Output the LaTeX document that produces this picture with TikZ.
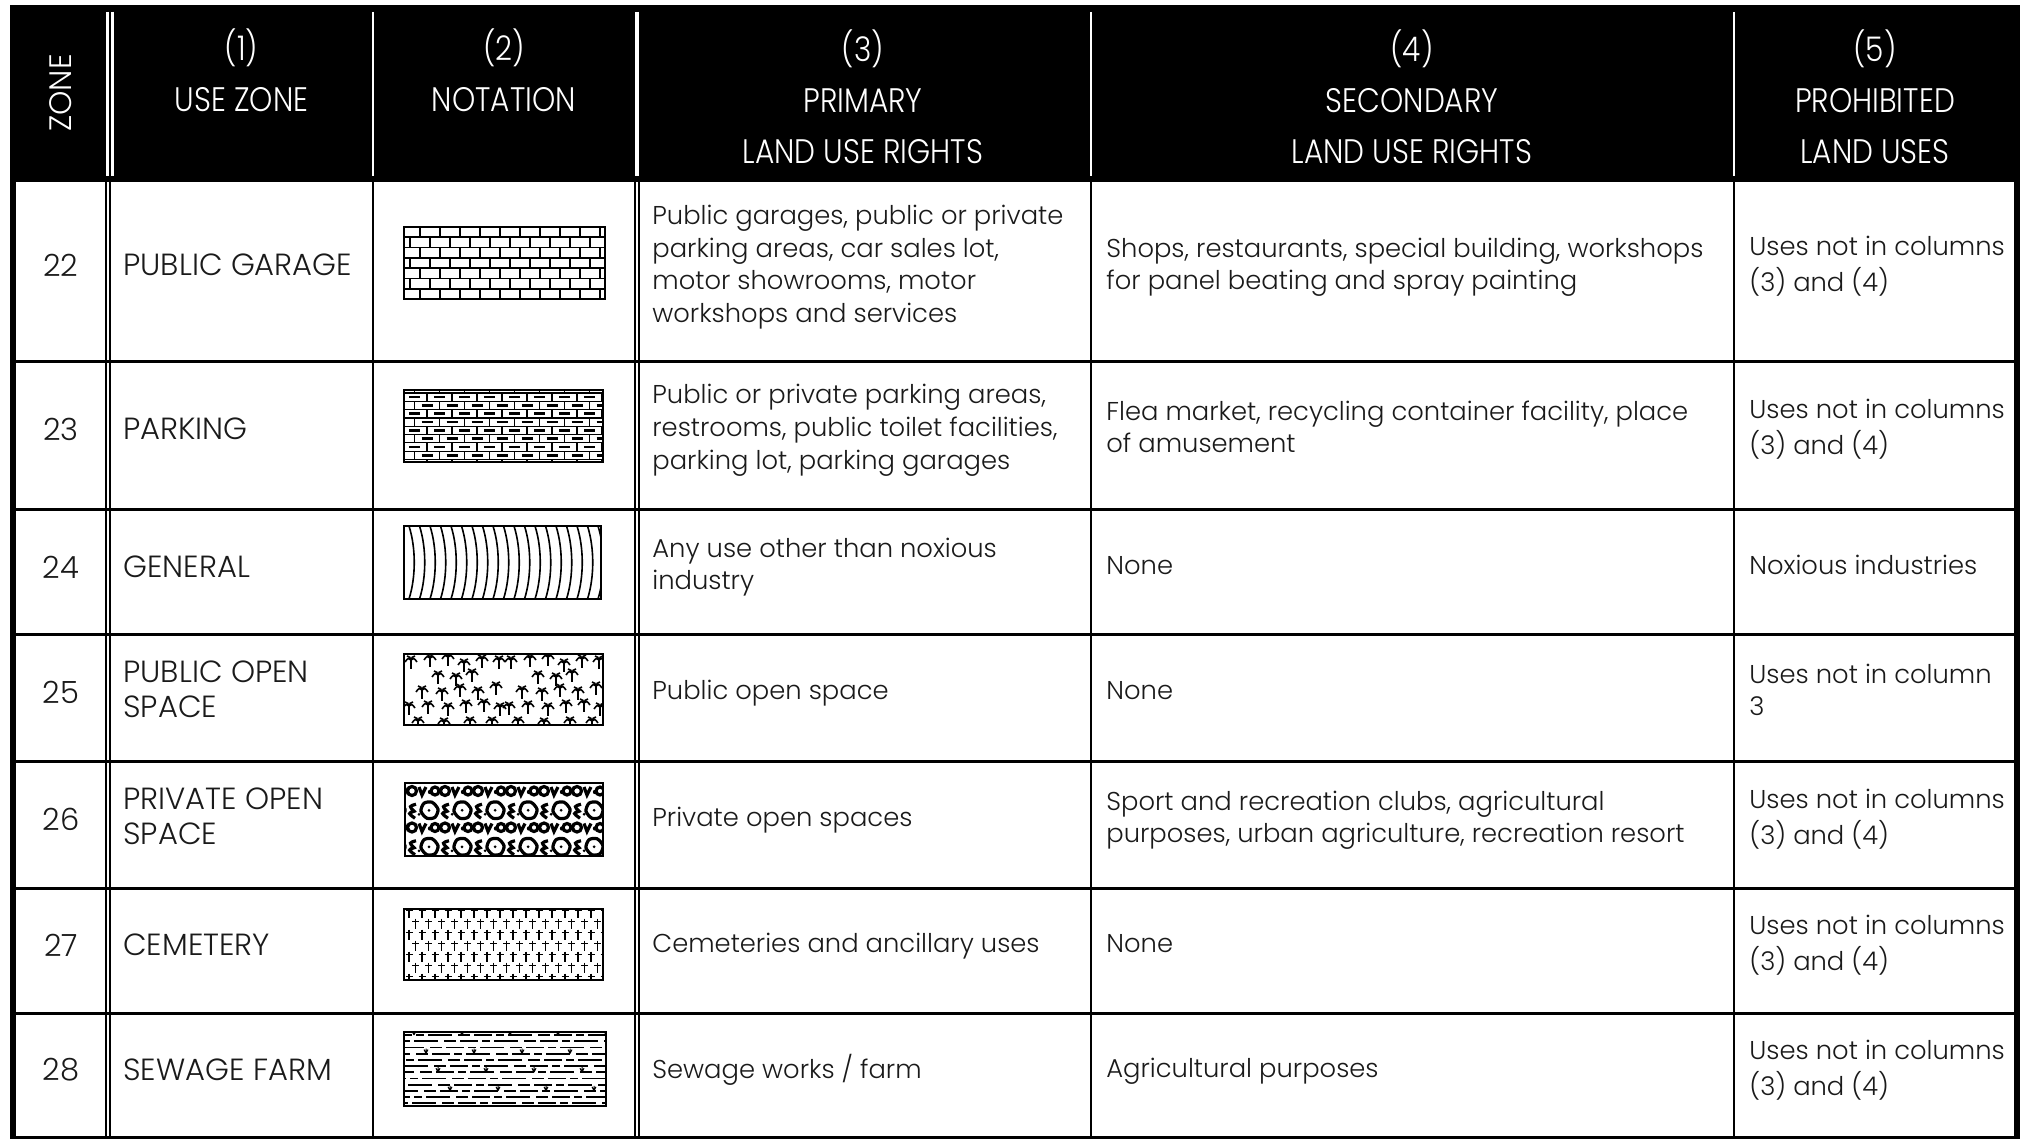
\documentclass[tikz,border=0pt]{standalone}
\usepackage{fontspec}
\IfFontExistsTF{Poppins Light}{%
  \setmainfont{Poppins Light}%
  \newfontfamily\hdrfont[FakeStretch=0.87]{Poppins Light}}{%
  \setmainfont{Poppins}%
  \newfontfamily\hdrfont[FakeStretch=0.87]{Poppins}}
\newcommand\bodysize{\fontsize{12.9}{16.4}\selectfont}
\newcommand\capsize{\fontsize{15.3}{17.5}\selectfont}
\newcommand\hdrsize{\hdrfont\fontsize{17}{25.5}\selectfont}
\definecolor{ink}{HTML}{1A1A1A}
\begin{document}
\begin{tikzpicture}[x=0.5pt,y=-0.5pt,
  rowline/.style={line width=1.5pt},
  colline/.style={line width=1.2pt},
  hdrline/.style={white,line width=1.2pt},
  hdrtext/.style={font=\hdrsize,text=white,align=center,inner sep=0pt},
  celltext/.style={font=\bodysize,text=ink,anchor=west,align=left,inner sep=0pt},
  capstext/.style={font=\capsize,text=ink,anchor=west,align=left,inner sep=0pt},
  numtext/.style={font=\capsize,text=ink,inner sep=0pt},
  patbox/.style={line width=1pt},
  patline/.style={line width=0.8pt},
  palm/.pic={\draw[line width=0.8pt] (0,0)--(0,9);
    \draw[line width=0.8pt] (0,0) .. controls (-3,-2) .. (-6,2) (0,0) .. controls (3,-2) .. (6,2)
      (0,0) .. controls (-1,-3) .. (-4,-4) (0,0) .. controls (1,-3) .. (4,-4);}
]
\useasboundingbox (0,0) rectangle (2030,1139);
% header band
\fill[black] (10,5) rectangle (2020,182);
\draw[hdrline] (107.5,12)--(107.5,176) (112.3,12)--(112.3,176);
\draw[hdrline] (373,12)--(373,176);
\draw[white,line width=2pt] (637,12)--(637,176);
\draw[hdrline] (1091,12)--(1091,176);
\draw[hdrline] (1734,12)--(1734,176);
\node[hdrtext,font=\fontsize{15.5}{18}\selectfont,rotate=90] (hzone) at (61,93) {ZONE};
\node[hdrtext] (h1) at (241.5,76) {\strut(1)\\USE ZONE\strut};
\node[hdrtext] (h2) at (504,76) {\strut(2)\\NOTATION\strut};
\node[hdrtext] (h3) at (863,102) {\strut(3)\\PRIMARY\\LAND USE RIGHTS\strut};
\node[hdrtext] (h4) at (1412,102) {\strut(4)\\SECONDARY\\LAND USE RIGHTS\strut};
\node[hdrtext] (h5) at (1875,102) {\strut(5)\\PROHIBITED\\LAND USES\strut};
% body borders
\fill[black] (10,182) rectangle (16,1139);
\fill[black] (2014,182) rectangle (2020,1139);
\draw[line width=1pt] (106,182)--(106,1139) (110,182)--(110,1139);
\draw[colline] (373,182)--(373,1139);
\draw[line width=1pt] (635,182)--(635,1139) (639,182)--(639,1139);
\draw[colline] (1091,182)--(1091,1139);
\draw[colline] (1734,182)--(1734,1139);
\foreach \yy in {362,509,634,761,888,1013,1137.5}
  \draw[rowline] (16,\yy)--(2014,\yy);
% zone numbers
\foreach \n/\yy in {22/265,23/429,24/567,25/692,26/819,27/945,28/1070}
  \node[numtext] (z\n) at (61,\yy) {\n};
% column 1
\node[capstext] (u22) at (123,265) {PUBLIC GARAGE};
\node[capstext] (u23) at (123,429) {PARKING};
\node[capstext] (u24) at (123,567) {GENERAL};
\node[capstext] (u25) at (123,693) {\strut PUBLIC OPEN\\SPACE\strut};
\node[capstext] (u26) at (123,820) {\strut PRIVATE OPEN\\SPACE\strut};
\node[capstext] (u27) at (123,945) {CEMETERY};
\node[capstext] (u28) at (123,1070) {SEWAGE FARM};
% column 3
\node[celltext] (p22) at (652,267) {\strut Public garages, public or private\\parking areas, car sales lot,\\motor showrooms, motor\\workshops and services\strut};
\node[celltext] (p23) at (652,430) {\strut Public or private parking areas,\\restrooms, public toilet facilities,\\parking lot, parking garages\strut};
\node[celltext] (p24) at (652,567) {\strut Any use other than noxious\\industry\strut};
\node[celltext] (p25) at (652,693) {\strut Public open space\strut};
\node[celltext] (p26) at (652,820) {\strut Private open spaces\strut};
\node[celltext] (p27) at (652,946) {\strut Cemeteries and ancillary uses\strut};
\node[celltext] (p28) at (652,1071) {\strut Sewage works / farm\strut};
% column 4
\node[celltext] (s22) at (1106,267) {\strut Shops, restaurants, special building, workshops\\for panel beating and spray painting\strut};
\node[celltext] (s23) at (1106,430) {\strut Flea market, recycling container facility, place\\of amusement\strut};
\node[celltext] (s24) at (1106,568) {\strut None\strut};
\node[celltext] (s25) at (1106,693) {\strut None\strut};
\node[celltext] (s26) at (1106,820) {\strut Sport and recreation clubs, agricultural\\purposes, urban agriculture, recreation resort\strut};
\node[celltext] (s27) at (1106,946) {\strut None\strut};
\node[celltext] (s28) at (1106,1071) {\strut Agricultural purposes\strut};
% column 5
\node[celltext] (x22) at (1749,267) {\strut Uses not in columns\\(3) and (4)\strut};
\node[celltext] (x23) at (1749,430) {\strut Uses not in columns\\(3) and (4)\strut};
\node[celltext] (x24) at (1749,568) {\strut Noxious industries\strut};
\node[celltext] (x25) at (1749,693) {\strut Uses not in column\\3\strut};
\node[celltext] (x26) at (1749,820) {\strut Uses not in columns\\(3) and (4)\strut};
\node[celltext] (x27) at (1749,946) {\strut Uses not in columns\\(3) and (4)\strut};
\node[celltext] (x28) at (1749,1071) {\strut Uses not in columns\\(3) and (4)\strut};
% ---------- notation patterns ----------
% 22 brick
\begin{scope}
\clip (404,227) rectangle (605,299);
\foreach \k in {1,...,6} \draw[line width=0.9pt] (404,227+\k*10.29)--(605,227+\k*10.29);
\foreach \k [evaluate=\k as \off using {mod(\k,2)*10}] in {0,...,6}
  \foreach \j in {0,...,10}
    \draw[line width=1.3pt] (400+\off+\j*20,227+\k*10.29)--++(0,10.29);
\end{scope}
\draw[patbox] (404,227) rectangle (605,299);
% 23 brick with dashes
\begin{scope}
\clip (404,390) rectangle (603,462);
\foreach \k in {0,...,8} \draw[line width=0.6pt] (404,393+\k*8.3)--(603,393+\k*8.3);
\foreach \k [evaluate=\k as \off using {mod(\k+2,2)*12.5}] in {-1,...,8}
  \foreach \j in {0,...,8} {
    \draw[line width=0.9pt] (402+\off+\j*25,393+\k*8.3)--++(0,8.3);
    \draw[line width=1.3pt] (402+\off+\j*25+7,393+\k*8.3+4.15)--++(11,0);
  }
\end{scope}
\draw[patbox] (404,390) rectangle (603,462);
% 24 curved lines
\begin{scope}
\clip (404,526) rectangle (601,599);
\foreach \i in {0,...,18}
  \draw[patline] (409+\i*10.5,526) .. controls (416+\i*10.5,548) and (416+\i*10.5,577) .. (409+\i*10.5,599);
\end{scope}
\draw[patbox] (404,526) rectangle (601,599);
% 25 palms
\begin{scope}
\clip (404,654) rectangle (603,725);
\foreach \t in {0,1}
  \foreach \dx/\dy in {7/6,26/4,44/3,60/9,78/5,95/6,34/21,52/23,68/19,18/36,38/38,56/34,74/37,92/32,5/52,24/51,44/53,62/50,80/49,96/53,14/67,40/68,66/67,88/67}
    \pic at (404+\t*100+\dx,654+\dy) {palm};
\end{scope}
\draw[patbox] (404,654) rectangle (603,725);
% 26 leopard blobs
\begin{scope}
\clip (405,783) rectangle (603,856);
\foreach \r in {0,2}
  \foreach \c in {-1,...,6} {
    \draw[line width=1.6pt] (405+\c*33+7,783+\r*18.25+8) circle (4.5);
    \draw[line width=1.6pt] (405+\c*33+14,783+\r*18.25+4)--(405+\c*33+17,783+\r*18.25+12)--(405+\c*33+21,783+\r*18.25+4);
    \fill (405+\c*33+25,783+\r*18.25+9) circle (2.2);
    \draw[line width=1.6pt] (405+\c*33+30,783+\r*18.25+8) circle (4);
  }
\foreach \r in {1,3}
  \foreach \c in {-1,...,6} {
    \draw[line width=1.6pt] plot[smooth cycle] coordinates {(405+\c*33+19,783+\r*18.25+2) (405+\c*33+27,783+\r*18.25+1) (405+\c*33+33,783+\r*18.25+8) (405+\c*33+30,783+\r*18.25+16) (405+\c*33+22,783+\r*18.25+17) (405+\c*33+16,783+\r*18.25+10)};
    \draw[line width=1.6pt] (405+\c*33+11,783+\r*18.25+3) .. controls (405+\c*33+4,783+\r*18.25+5) .. (405+\c*33+9,783+\r*18.25+10) .. controls (405+\c*33+3,783+\r*18.25+12) .. (405+\c*33+10,783+\r*18.25+17);
    \fill (405+\c*33+24,783+\r*18.25+9) circle (1.5);
    \fill (405+\c*33+14,783+\r*18.25+13) circle (1.5);
  }
\end{scope}
\draw[patbox] (405,783) rectangle (603,856);
% 27 crosses
\begin{scope}
\clip (404,909) rectangle (603,980);
\foreach \r [evaluate=\r as \off using {mod(\r,2)*6.5}] in {0,...,6}
  \foreach \c in {0,...,15}
    \draw[line width=0.7pt] (409+\off+\c*13,912+\r*11-4.5)--++(0,10) (409+\off+\c*13-3.5,912+\r*11-1.5)--++(7,0);
\end{scope}
\draw[patbox] (404,909) rectangle (603,980);
% 28 marsh
\begin{scope}
\clip (404,1032) rectangle (606,1106);
\foreach \r [evaluate=\r as \ph using {mod(\r*7,23)}] in {0,...,11}
  \draw[line width=0.9pt,dash pattern=on 9pt off 2pt on 4pt off 2pt on 12pt off 3pt on 6pt off 2pt,dash phase=\ph pt] (394,1035+\r*6.2)--(616,1035+\r*6.2);
\foreach \r in {0,3,6,9}
  \foreach \j in {0,...,4}
    \draw[line width=0.5pt] (414+\j*48+\r*4,1035+\r*6.2)--++(-2,-4) (414+\j*48+\r*4,1035+\r*6.2)--++(0,-5) (414+\j*48+\r*4,1035+\r*6.2)--++(2,-4);
\end{scope}
\draw[patbox] (404,1032) rectangle (606,1106);
\end{tikzpicture}
\end{document}
